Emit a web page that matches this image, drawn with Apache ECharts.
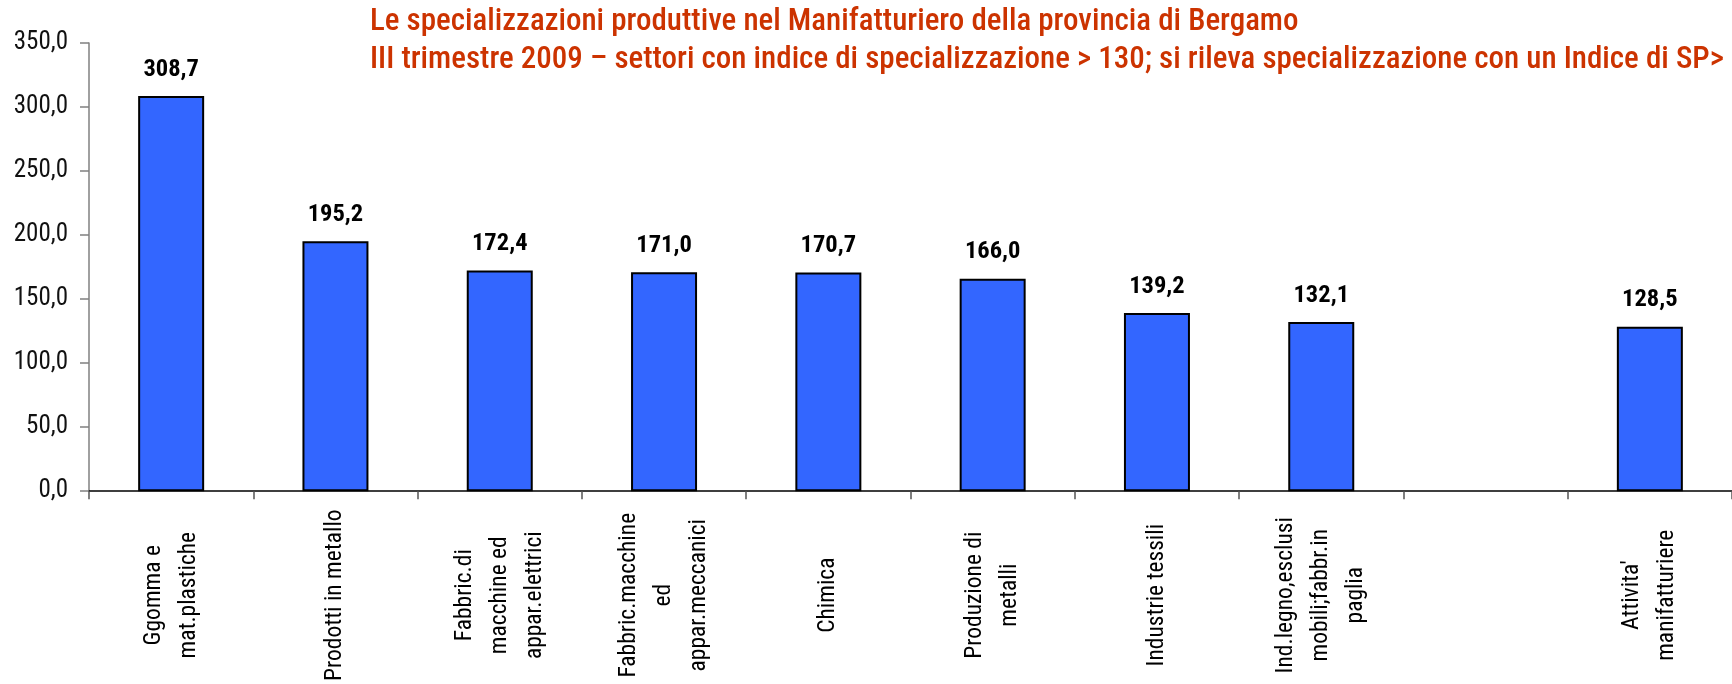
<!DOCTYPE html>
<html>
<head>
<meta charset="utf-8">
<script src="https://cdn.jsdelivr.net/npm/echarts@6/dist/echarts.min.js"></script>
<style>
html, body { margin: 0; padding: 0; background: #ffffff; }
#chart { width: 1732px; height: 684px; }
</style>
</head>
<body>
<div id="chart"></div>
<script>
// ---- data ----
const categories = [
  'Ggomma e\nmat.plastiche',
  'Prodotti in metallo',
  'Fabbric.di\nmacchine ed\nappar.elettrici',
  'Fabbric.macchine\ned\nappar.meccanici',
  'Chimica',
  'Produzione di\nmetalli',
  'Industrie tessili',
  'Ind.legno,esclusi\nmobili;fabbr.in\npaglia',
  '',
  "Attivita'\nmanifatturiere"
];
const values = [308.7, 195.2, 172.4, 171.0, 170.7, 166.0, 139.2, 132.1, '-', 128.5];
const yMin = 0;
const yMax = 350;
const yStep = 50;
const titleLine1 = 'Le specializzazioni produttive nel Manifatturiero della provincia di Bergamo';
const titleLine2 = 'III trimestre 2009 \u2013 settori con indice di specializzazione > 130; si rileva specializzazione con un Indice di SP>';

// ---- font sizing (narrow typeface, sized to the reference text widths) ----
const FONT = '"Roboto Condensed", "Liberation Sans", Arial, sans-serif';
const TITLE_WEIGHT = 500;
const probe = document.createElement('canvas').getContext('2d');
function fitSize(text, target, weight) {
  probe.font = weight + ' 100px ' + FONT;
  return Math.round(100 * target / probe.measureText(text).width * 2) / 2;
}
const xFS = fitSize('Prodotti in metallo', 170, 'normal');
const yFS = fitSize('300,0', 54, 'normal');
const dataFS = fitSize('308,7', 55, 'bold');
const titleFS = fitSize(titleLine2, 1355, TITLE_WEIGHT);

const fmt = v => Number(v).toFixed(1).replace('.', ',');

const chart = echarts.init(document.getElementById('chart'), null, { renderer: 'canvas' });
chart.setOption({
  backgroundColor: '#ffffff',
  animation: false,
  grid: { left: 89, right: -7, top: 43, bottom: 190, containLabel: false },
  xAxis: {
    type: 'category',
    data: categories,
    axisLine: { lineStyle: { color: '#000000', width: 1.5 } },
    axisTick: { show: true, alignWithLabel: false, length: 8, lineStyle: { color: '#555555', width: 1.5 } },
    axisLabel: {
      interval: 0,
      rotate: 90,
      align: 'center',
      margin: 104,
      color: '#000000',
      fontFamily: FONT,
      fontSize: xFS,
      lineHeight: 35
    },
    splitLine: { show: false }
  },
  yAxis: {
    type: 'value',
    min: yMin,
    max: yMax,
    interval: yStep,
    axisLine: { show: true, lineStyle: { color: '#808080', width: 1.5 } },
    axisTick: { show: true, length: 9, lineStyle: { color: '#808080', width: 1.5 } },
    axisLabel: {
      margin: 21,
      color: '#111111',
      fontFamily: FONT,
      fontSize: yFS,
      formatter: v => fmt(v)
    },
    splitLine: { show: false }
  },
  series: [{
    type: 'bar',
    data: values,
    barWidth: 66,
    itemStyle: { color: '#3366FF', borderColor: '#000000', borderWidth: 2 },
    label: {
      show: true,
      position: 'top',
      distance: 14,
      color: '#000000',
      fontFamily: FONT,
      fontWeight: 'bold',
      fontSize: dataFS,
      formatter: p => fmt(p.value)
    }
  }],
  graphic: [
    {
      type: 'text', x: 370, y: 22,
      style: { text: titleLine1, fill: '#CC3300', fontFamily: FONT, fontWeight: TITLE_WEIGHT, fontSize: titleFS, verticalAlign: 'middle', align: 'left' }
    },
    {
      type: 'text', x: 370, y: 60,
      style: { text: titleLine2, fill: '#CC3300', fontFamily: FONT, fontWeight: TITLE_WEIGHT, fontSize: titleFS, verticalAlign: 'middle', align: 'left' }
    }
  ]
});
</script>
</body>
</html>
